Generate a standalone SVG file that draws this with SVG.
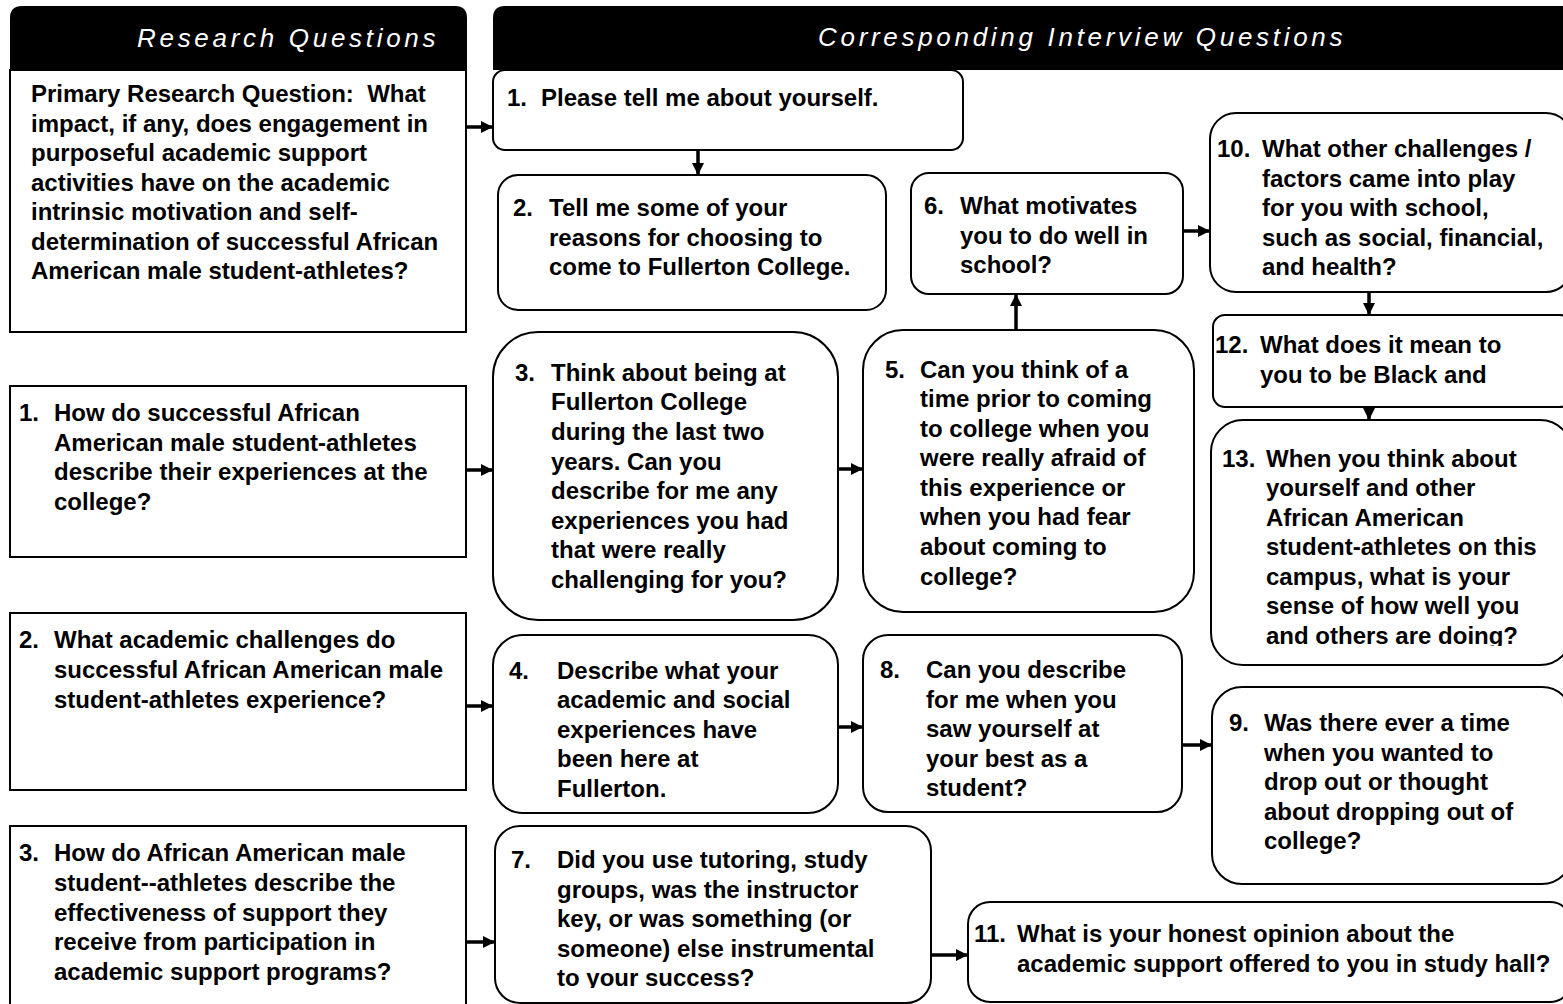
<svg xmlns="http://www.w3.org/2000/svg" width="1563" height="1004" viewBox="0 0 1563 1004">
<style>
.bg{fill:#fff}
.hdr{fill:#000}
.ht{font-family:"Liberation Sans",Arial,sans-serif;font-style:italic;font-size:26px;letter-spacing:3.7px;fill:#fff}
.box{fill:#fff;stroke:#000;stroke-width:2}
.t{font-family:"Liberation Sans",Arial,sans-serif;font-weight:bold;font-size:24px;fill:#000}
.con{stroke:#000;stroke-width:3.5;fill:none;marker-end:url(#ah)}
</style>
<defs>
<marker id="ah" markerUnits="userSpaceOnUse" markerWidth="14" markerHeight="14" refX="12" refY="6" orient="auto">
<path d="M0,0 L12,6 L0,12 Z" fill="#000"/>
</marker>
<clipPath id="c4"><rect x="493" y="635" width="345" height="164"/></clipPath>
<clipPath id="c7"><rect x="495" y="826" width="436" height="162"/></clipPath>
<clipPath id="c13"><rect x="1211" y="420" width="352" height="226"/></clipPath>
</defs>
<rect class="bg" x="0" y="0" width="1563" height="1004"/>

<g id="header-research">
<path class="hdr" d="M10,70 V18 Q10,6 22,6 H455 Q467,6 467,18 V70 Z"/>
<text class="ht" x="137" y="47">Research Questions</text>
</g>
<g id="header-interview">
<path class="hdr" d="M493,70 V18 Q493,6 505,6 H1575 V70 Z"/>
<text class="ht" x="818" y="46">Corresponding Interview Questions</text>
</g>

<g id="rq-primary">
<rect class="box" x="10" y="70" width="456" height="262"/>
<text class="t"><tspan x="31" y="102">Primary Research Question:&#160; What</tspan><tspan x="31" y="132">impact, if any, does engagement in</tspan><tspan x="31" y="161">purposeful academic support</tspan><tspan x="31" y="191">activities have on the academic</tspan><tspan x="31" y="220">intrinsic motivation and self-</tspan><tspan x="31" y="250">determination of successful African</tspan><tspan x="31" y="279">American male student-athletes?</tspan></text>
</g>
<g id="rq-1">
<rect class="box" x="10" y="386" width="456" height="171"/>
<text class="t"><tspan x="19" y="421">1.</tspan><tspan x="54" y="421">How do successful African</tspan><tspan x="54" y="451">American male student-athletes</tspan><tspan x="54" y="480">describe their experiences at the</tspan><tspan x="54" y="510">college?</tspan></text>
</g>
<g id="rq-2">
<rect class="box" x="10" y="613" width="456" height="177"/>
<text class="t"><tspan x="19" y="648">2.</tspan><tspan x="54" y="648">What academic challenges do</tspan><tspan x="54" y="678">successful African American male</tspan><tspan x="54" y="708">student-athletes experience?</tspan></text>
</g>
<g id="rq-3">
<rect class="box" x="10" y="826" width="456" height="190"/>
<text class="t"><tspan x="19" y="861">3.</tspan><tspan x="54" y="861">How do African American male</tspan><tspan x="54" y="891">student--athletes describe the</tspan><tspan x="54" y="921">effectiveness of support they</tspan><tspan x="54" y="950">receive from participation in</tspan><tspan x="54" y="980">academic support programs?</tspan></text>
</g>

<g id="iq-1">
<rect class="box" x="493" y="70" width="470" height="80" rx="12"/>
<text class="t"><tspan x="507" y="106">1.</tspan><tspan x="541" y="106">Please tell me about yourself.</tspan></text>
</g>
<g id="iq-2">
<rect class="box" x="498" y="175" width="388" height="135" rx="20"/>
<text class="t"><tspan x="513" y="216">2.</tspan><tspan x="549" y="216">Tell me some of your</tspan><tspan x="549" y="246">reasons for choosing to</tspan><tspan x="549" y="275">come to Fullerton College.</tspan></text>
</g>
<g id="iq-6">
<rect class="box" x="911" y="173" width="272" height="121" rx="18"/>
<text class="t"><tspan x="924" y="214">6.</tspan><tspan x="960" y="214">What motivates</tspan><tspan x="960" y="244">you to do well in</tspan><tspan x="960" y="273">school?</tspan></text>
</g>
<g id="iq-10">
<rect class="box" x="1210" y="113" width="362" height="179" rx="26"/>
<text class="t"><tspan x="1217" y="157">10.</tspan><tspan x="1262" y="157">What other challenges /</tspan><tspan x="1262" y="187">factors came into play</tspan><tspan x="1262" y="216">for you with school,</tspan><tspan x="1262" y="246">such as social, financial,</tspan><tspan x="1262" y="275">and health?</tspan></text>
</g>
<g id="iq-12">
<rect class="box" x="1213" y="315" width="359" height="92" rx="12"/>
<text class="t"><tspan x="1215" y="353">12.</tspan><tspan x="1260" y="353">What does it mean to</tspan><tspan x="1260" y="383">you to be Black and</tspan></text>
</g>
<g id="iq-13">
<rect class="box" x="1211" y="420" width="361" height="245" rx="32"/>
<text class="t" clip-path="url(#c13)"><tspan x="1222" y="467">13.</tspan><tspan x="1266" y="467">When you think about</tspan><tspan x="1266" y="496">yourself and other</tspan><tspan x="1266" y="526">African American</tspan><tspan x="1266" y="555">student-athletes on this</tspan><tspan x="1266" y="585">campus, what is your</tspan><tspan x="1266" y="614">sense of how well you</tspan><tspan x="1266" y="644">and others are doing?</tspan></text>
</g>
<g id="iq-3">
<rect class="box" x="493" y="332" width="345" height="288" rx="45"/>
<text class="t"><tspan x="515" y="381">3.</tspan><tspan x="551" y="381">Think about being at</tspan><tspan x="551" y="410">Fullerton College</tspan><tspan x="551" y="440">during the last two</tspan><tspan x="551" y="470">years. Can you</tspan><tspan x="551" y="499">describe for me any</tspan><tspan x="551" y="529">experiences you had</tspan><tspan x="551" y="558">that were really</tspan><tspan x="551" y="588">challenging for you?</tspan></text>
</g>
<g id="iq-5">
<rect class="box" x="863" y="330" width="331" height="282" rx="40"/>
<text class="t"><tspan x="885" y="378">5.</tspan><tspan x="920" y="378">Can you think of a</tspan><tspan x="920" y="407">time prior to coming</tspan><tspan x="920" y="437">to college when you</tspan><tspan x="920" y="466">were really afraid of</tspan><tspan x="920" y="496">this experience or</tspan><tspan x="920" y="525">when you had fear</tspan><tspan x="920" y="555">about coming to</tspan><tspan x="920" y="585">college?</tspan></text>
</g>
<g id="iq-4">
<rect class="box" x="493" y="635" width="345" height="178" rx="30"/>
<text class="t" clip-path="url(#c4)"><tspan x="509" y="679">4.</tspan><tspan x="557" y="679">Describe what your</tspan><tspan x="557" y="708">academic and social</tspan><tspan x="557" y="738">experiences have</tspan><tspan x="557" y="767">been here at</tspan><tspan x="557" y="797">Fullerton.</tspan></text>
</g>
<g id="iq-8">
<rect class="box" x="863" y="635" width="319" height="177" rx="25"/>
<text class="t"><tspan x="880" y="678">8.</tspan><tspan x="926" y="678">Can you describe</tspan><tspan x="926" y="708">for me when you</tspan><tspan x="926" y="737">saw yourself at</tspan><tspan x="926" y="767">your best as a</tspan><tspan x="926" y="796">student?</tspan></text>
</g>
<g id="iq-9">
<rect class="box" x="1212" y="687" width="360" height="197" rx="30"/>
<text class="t"><tspan x="1229" y="731">9.</tspan><tspan x="1264" y="731">Was there ever a time</tspan><tspan x="1264" y="761">when you wanted to</tspan><tspan x="1264" y="790">drop out or thought</tspan><tspan x="1264" y="820">about dropping out of</tspan><tspan x="1264" y="849">college?</tspan></text>
</g>
<g id="iq-7">
<rect class="box" x="495" y="826" width="436" height="177" rx="25"/>
<text class="t" clip-path="url(#c7)"><tspan x="511" y="868">7.</tspan><tspan x="557" y="868">Did you use tutoring, study</tspan><tspan x="557" y="898">groups, was the instructor</tspan><tspan x="557" y="927">key, or was something (or</tspan><tspan x="557" y="957">someone) else instrumental</tspan><tspan x="557" y="986">to your success?</tspan></text>
</g>
<g id="iq-11">
<rect class="box" x="968" y="902" width="604" height="100" rx="22"/>
<text class="t"><tspan x="974" y="942">11.</tspan><tspan x="1017" y="942">What is your honest opinion about the</tspan><tspan x="1017" y="972">academic support offered to you in study hall?</tspan></text>
</g>

<g id="connectors">
<line class="con" x1="466" y1="127" x2="493" y2="127"/>
<line class="con" x1="466" y1="470" x2="493" y2="470"/>
<line class="con" x1="466" y1="706" x2="493" y2="706"/>
<line class="con" x1="466" y1="942" x2="495" y2="942"/>
<line class="con" x1="698" y1="150" x2="698" y2="175"/>
<line class="con" x1="838" y1="469" x2="863" y2="469"/>
<line class="con" x1="1016" y1="330" x2="1016" y2="294"/>
<line class="con" x1="1183" y1="231" x2="1210" y2="231"/>
<line class="con" x1="1369" y1="292" x2="1369" y2="315"/>
<line class="con" x1="1369" y1="407" x2="1369" y2="420"/>
<line class="con" x1="838" y1="727" x2="863" y2="727"/>
<line class="con" x1="1182" y1="745" x2="1212" y2="745"/>
<line class="con" x1="931" y1="955" x2="968" y2="955"/>
</g>
</svg>
